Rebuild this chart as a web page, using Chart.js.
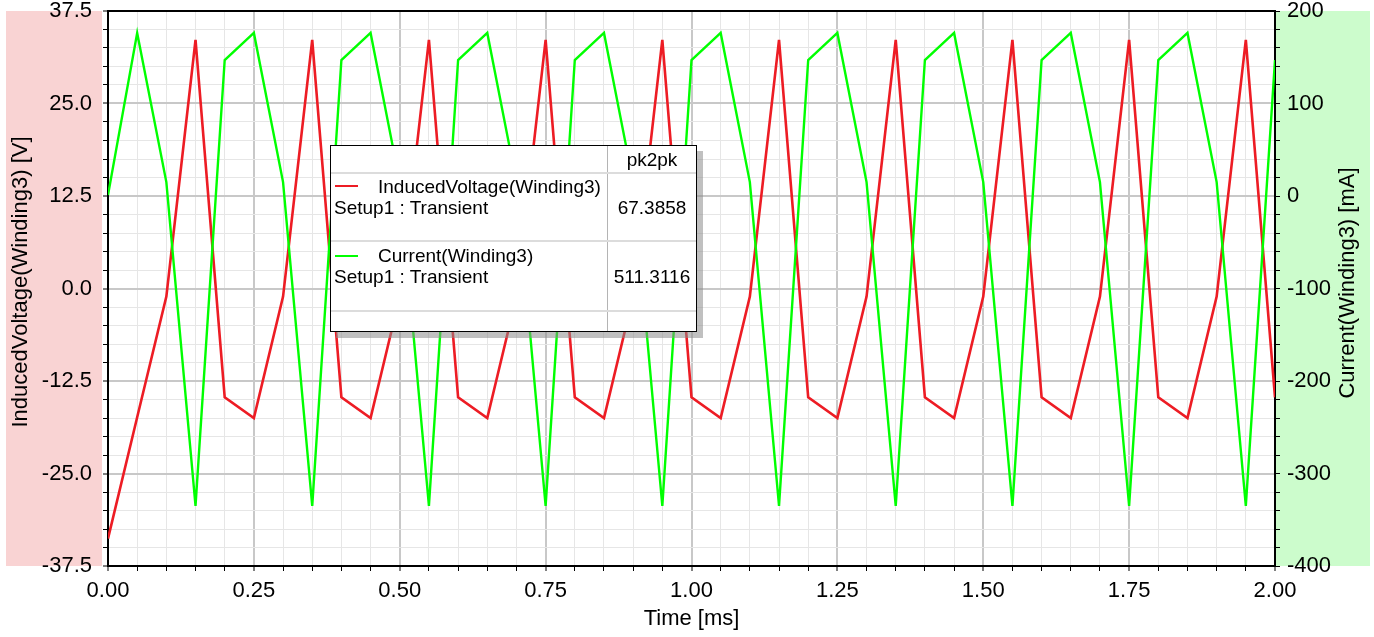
<!DOCTYPE html>
<html>
<head>
<meta charset="utf-8">
<script src="https://cdn.jsdelivr.net/npm/chart.js@4.4.1/dist/chart.umd.min.js"></script>
<style>
  html, body { margin: 0; padding: 0; background: #fff; }
  #wrap { position: relative; width: 1374px; height: 637px; }
  #legendBox {
    position: absolute; left: 330px; top: 145px; width: 365px; height: 185px;
    border: 1px solid #000; background: #fff;
    box-shadow: 6px 6px 0 rgba(140, 140, 140, 0.55);
    font-family: 'Liberation Sans', Arial, sans-serif; font-size: 19px; color: #000;
  }
  #legendBox .hl { position: absolute; left: 0; width: 365px; height: 2px; background: #dcdcdc; }
  #legendBox .vl { position: absolute; left: 276px; top: 0; width: 1px; height: 185px; background: #b4b4b4; }
  #legendBox .txt { position: absolute; height: 20px; line-height: 20px; white-space: pre; }
  #legendBox .num { position: absolute; left: 277px; width: 88px; height: 20px; line-height: 20px; text-align: center; }
  #legendBox .swatch { position: absolute; left: 4px; width: 23px; height: 2px; }
</style>
</head>
<body>
<div id="wrap">
  <canvas id="transientChart" width="1374" height="637"></canvas>
  <div id="legendBox">
    <div class="vl"></div>
    <div class="hl" style="top:26px"></div>
    <div class="hl" style="top:94px"></div>
    <div class="hl" style="top:164px"></div>
    <div class="num" style="top:4px">pk2pk</div>
    <div class="swatch" style="top:39px;background:#ed1c24"></div>
    <div class="txt" style="left:47px;top:31px">InducedVoltage(Winding3)</div>
    <div class="txt" style="left:3px;top:52px">Setup1 : Transient</div>
    <div class="num" style="top:52px">67.3858</div>
    <div class="swatch" style="top:109px;background:#00ff00"></div>
    <div class="txt" style="left:47px;top:100px">Current(Winding3)</div>
    <div class="txt" style="left:3px;top:121px">Setup1 : Transient</div>
    <div class="num" style="top:121px">511.3116</div>
  </div>
</div>
<script>
// time axis samples [ms]
const timeMs = [
  0.00, 0.05, 0.10, 0.15, 0.20, 0.25, 0.30, 0.35, 0.40, 0.45,
  0.50, 0.55, 0.60, 0.65, 0.70, 0.75, 0.80, 0.85, 0.90, 0.95,
  1.00, 1.05, 1.10, 1.15, 1.20, 1.25, 1.30, 1.35, 1.40, 1.45,
  1.50, 1.55, 1.60, 1.65, 1.70, 1.75, 1.80, 1.85, 1.90, 1.95,
  2.00
];

// InducedVoltage(Winding3) [V]
const inducedVoltage = [
  -33.8, -17.4,
  -1.1, 33.6, -14.7, -17.5,
  -1.1, 33.6, -14.7, -17.5,
  -1.1, 33.6, -14.7, -17.5,
  -1.1, 33.6, -14.7, -17.5,
  -1.1, 33.6, -14.7, -17.5,
  -1.1, 33.6, -14.7, -17.5,
  -1.1, 33.6, -14.7, -17.5,
  -1.1, 33.6, -14.7, -17.5,
  -1.1, 33.6, -14.7, -17.5,
  -1.1, 33.6, -14.7
];

// Current(Winding3) [mA]
const currentMA = [
  1, 176.3,
  15, -335, 147, 176.3,
  15, -335, 147, 176.3,
  15, -335, 147, 176.3,
  15, -335, 147, 176.3,
  15, -335, 147, 176.3,
  15, -335, 147, 176.3,
  15, -335, 147, 176.3,
  15, -335, 147, 176.3,
  15, -335, 147, 176.3,
  15, -335, 147
];

const FONT = "'Liberation Sans', Arial, sans-serif";
const tickFont = { family: FONT, size: 22, lineHeight: 1 };
const titleFont = { family: FONT, size: 22, lineHeight: 1 };

const isMajor = (v, step) => Math.abs(v / step - Math.round(v / step)) < 1e-6;

// coloured bands behind the axes, top frame line and the two vertical titles
const framePlugin = {
  id: 'frame',
  beforeDraw(chart) {
    const { ctx, chartArea: ca } = chart;
    ctx.save();
    ctx.fillStyle = '#f9d3d3';
    ctx.fillRect(6, ca.top, ca.left - 12, ca.bottom - ca.top);
    ctx.fillStyle = '#ccfccc';
    ctx.fillRect(ca.right, ca.top, 1370 - ca.right, ca.bottom - ca.top);
    ctx.restore();
  },
  afterDraw(chart) {
    const { ctx, chartArea: ca } = chart;
    ctx.save();
    ctx.strokeStyle = '#000';
    ctx.lineWidth = 2;
    ctx.beginPath();
    ctx.moveTo(ca.left - 1, ca.top);
    ctx.lineTo(ca.right + 1, ca.top);
    ctx.stroke();

    ctx.fillStyle = '#000';
    ctx.font = '22px ' + FONT;
    ctx.textAlign = 'center';
    ctx.textBaseline = 'middle';
    const vertical = (text, x, y) => {
      ctx.save();
      ctx.translate(x, y);
      ctx.rotate(-Math.PI / 2);
      ctx.fillText(text, 0, 0);
      ctx.restore();
    };
    vertical('InducedVoltage(Winding3) [V]', 21, 282);
    vertical('Current(Winding3) [mA]', ca.right + 73, 283);
    ctx.restore();
  }
};

const gridColor = step => ctx => isMajor(ctx.tick.value, step) ? '#c8c8c8' : '#e6e6e6';
const gridWidth = step => ctx => isMajor(ctx.tick.value, step) ? 2 : 1;

// fix the axis box size and drop the label overflow padding so the plot area sits where the original one does
const fixWidth = w => s => { s.width = w; s.paddingTop = 0; s.paddingBottom = 0; };

const ctx = document.getElementById('transientChart').getContext('2d');
new Chart(ctx, {
  type: 'line',
  data: {
    datasets: [
      {
        label: 'InducedVoltage(Winding3)',
        data: timeMs.map((t, i) => ({ x: t, y: inducedVoltage[i] })),
        yAxisID: 'yV',
        borderColor: '#ed1c24',
        borderWidth: 2.6,
        order: 1
      },
      {
        label: 'Current(Winding3)',
        data: timeMs.map((t, i) => ({ x: t, y: currentMA[i] })),
        yAxisID: 'yI',
        borderColor: '#00ff00',
        borderWidth: 2.4,
        order: 0
      }
    ]
  },
  options: {
    responsive: false,
    animation: false,
    events: [],
    layout: { padding: { top: 11, left: 0, right: 0, bottom: 0 } },
    elements: { point: { radius: 0 }, line: { tension: 0 } },
    plugins: { legend: { display: false }, tooltip: { enabled: false } },
    scales: {
      x: {
        type: 'linear',
        position: 'bottom',
        min: 0,
        max: 2,
        afterFit: s => { s.height = 71; },
        ticks: {
          stepSize: 0.05,
          autoSkip: false,
          maxRotation: 0,
          padding: 9,
          color: '#000',
          font: tickFont,
          callback: v => isMajor(v, 0.25) ? v.toFixed(2) : ''
        },
        grid: { color: gridColor(0.25), lineWidth: gridWidth(0.25), tickColor: '#000', tickWidth: 1, tickLength: 5 },
        border: { color: '#000', width: 2 },
        title: { display: true, text: 'Time [ms]', color: '#000', font: titleFont, padding: { top: 0, bottom: 7 } }
      },
      yV: {
        type: 'linear',
        position: 'left',
        min: -37.5,
        max: 37.5,
        afterFit: fixWidth(108),
        ticks: {
          stepSize: 2.5,
          autoSkip: false,
          padding: 11,
          color: '#000',
          font: tickFont,
          callback: v => isMajor(v, 12.5) ? v.toFixed(1) : ''
        },
        grid: { color: gridColor(12.5), lineWidth: gridWidth(12.5), tickColor: '#000', tickWidth: 1, tickLength: 5 },
        border: { color: '#000', width: 2 }
      },
      yI: {
        type: 'linear',
        position: 'right',
        min: -400,
        max: 200,
        afterFit: fixWidth(99),
        ticks: {
          stepSize: 20,
          autoSkip: false,
          padding: 7,
          color: '#000',
          font: tickFont,
          callback: v => isMajor(v, 100) ? String(Math.round(v)) : ''
        },
        grid: { drawOnChartArea: false, tickColor: '#000', tickWidth: 1, tickLength: 5 },
        border: { color: '#000', width: 2 }
      }
    }
  },
  plugins: [framePlugin]
});
</script>
</body>
</html>
